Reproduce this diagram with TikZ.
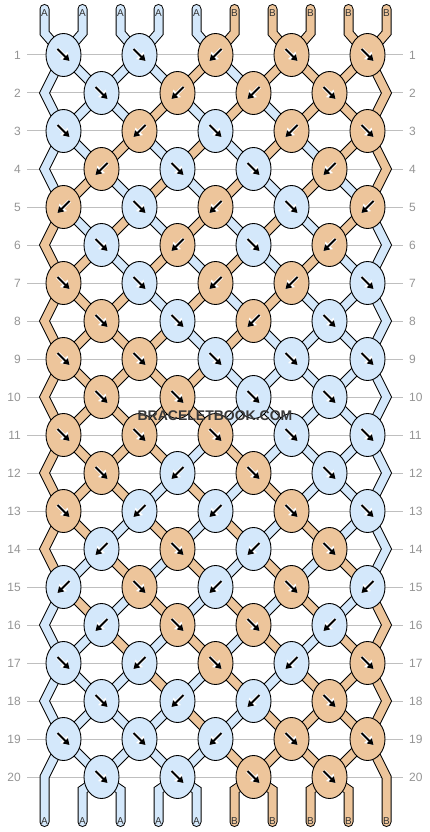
\documentclass[tikz,border=0pt]{standalone}
\usepackage{fontspec}
\setmainfont{Liberation Sans}
\usetikzlibrary{arrows.meta,shapes.geometric}
\definecolor{colA}{RGB}{212,232,251}
\definecolor{colB}{RGB}{237,197,155}
\tikzset{
  >={Triangle[length=6pt,width=7pt]},
  knot/.style={
    ellipse,
    draw=black, line width=0.9pt,
    fill=#1,
    minimum width=35pt,
    minimum height=43pt,
    inner sep=0pt},
  strand/.style={draw=black, line width=1pt, double=#1, double distance=8pt,
    line cap=round},
  rowline/.style={draw=black!25, line width=1pt, shorten <=4pt, shorten >=4pt},
  rownum/.style={text=black!42, inner sep=2pt, font=\fontsize{12}{14}\selectfont},
  strlbl/.style={text=black!80, inner sep=0pt, font=\fontsize{10}{12}\selectfont},
  arrw/.style={->, line width=2pt},
  arrhalo/.style={-{Triangle[length=8pt,width=10pt]}, white, line width=3.6pt},
  wmark/.style={inner sep=0pt, text=black!78,
    font=\bfseries\fontsize{14}{16}\selectfont},
}

\begin{document}
\begin{tikzpicture}[x=1pt,y=-1pt]
  \useasboundingbox (0,0) rectangle (430,832);
  % row numbers and guide lines
  \foreach \r in {1,...,20}{
    \node[rownum, anchor=east] (ln-\r) at (23,{55+38*(\r-1)}) {\r};
    \node[rownum, anchor=west] (rn-\r) at (407,{55+38*(\r-1)}) {\r};
    \draw[rowline] (ln-\r.east) -- (rn-\r.west);
  }
  % knot positions, column k = half string spacing
  \foreach \r in {1,...,20}
    \foreach \k in {0,...,18}
      \coordinate (n-\r-\k) at ({44.5+19*\k},{55+38*(\r-1)});
  \foreach \p in {0,...,9}{
    \coordinate (top-\p) at ({44.5+38*\p},9);
    \coordinate (tb-\p) at ({44.5+38*\p},33);
    \coordinate (bb-\p) at ({44.5+38*\p},790);
    \coordinate (bot-\p) at ({44.5+38*\p},822);
  }
  % strings: every knot swaps its two strings, so each one bounces
  % from edge to edge; k = position before + position after the row
  \foreach \p in {0,...,9}{
    \pgfmathtruncatemacro\qz{ifthenelse(mod(\p,2)==0,\p,19-\p)}
    \ifnum\p<5 \def\col{colA}\else\def\col{colB}\fi
    \draw[strand=\col] (top-\p) -- (tb-\p)
      \foreach \r [evaluate=\r as \k using {int(round(19-abs(mod(\qz+\r-1,20)-9.5)-abs(mod(\qz+\r,20)-9.5)))}] in {1,...,20}
        { -- (n-\r-\k) }
      -- (bb-\p) -- (bot-\p);
  }
  % knots: colour / direction (r = down right, l = down left)
  \foreach \row [count=\r] in {
      {A/r,A/r,B/l,B/r,B/r}, {A/r,B/l,B/l,B/r},
      {A/r,B/l,A/r,B/l,B/r}, {B/l,A/r,A/r,B/l},
      {B/l,A/r,B/l,A/r,B/l}, {A/r,B/l,A/r,B/l},
      {B/r,A/r,B/l,B/l,A/r}, {B/r,A/r,B/l,A/r},
      {B/r,B/r,A/r,A/r,A/r}, {B/r,B/r,A/r,A/r},
      {B/r,B/r,B/r,A/r,A/r}, {B/r,A/l,B/r,A/r},
      {B/r,A/l,A/l,B/r,A/r}, {A/l,B/r,A/l,B/r},
      {A/l,B/r,A/l,B/r,A/l}, {A/l,B/r,B/r,A/l},
      {A/r,A/l,B/r,A/l,B/r}, {A/r,A/l,A/l,B/r},
      {A/r,A/r,A/l,B/r,B/r}, {A/r,A/r,B/r,B/r}}{
    \foreach \c/\dr [count=\j from 0] in \row {
      \pgfmathtruncatemacro\k{ifthenelse(mod(\r,2)==1,1,3)+4*\j}
      \if r\dr \def\sx{1}\else\def\sx{-1}\fi
      \node[knot=col\c] (knot-\r-\k) at (n-\r-\k) {};
      \draw[arrhalo] ([shift={(-6*\sx,-6)}]knot-\r-\k.center)
        -- ([shift={(6*\sx,6)}]knot-\r-\k.center);
      \draw[arrw] ([shift={(-6*\sx,-6)}]knot-\r-\k.center)
        -- ([shift={(6*\sx,6)}]knot-\r-\k.center);
    }
  }
  % string letters
  \foreach \p/\t in {0/A,1/A,2/A,3/A,4/A,5/B,6/B,7/B,8/B,9/B}{
    \node[strlbl] (tl-\p) at ({44.5+38*\p},13) {\t};
    \node[strlbl] (bl-\p) at ({44.5+38*\p},821) {\t};
  }
  % watermark
  \node[wmark] (mark) at (215,416) {BRACELETBOOK.COM};
\end{tikzpicture}
\end{document}
